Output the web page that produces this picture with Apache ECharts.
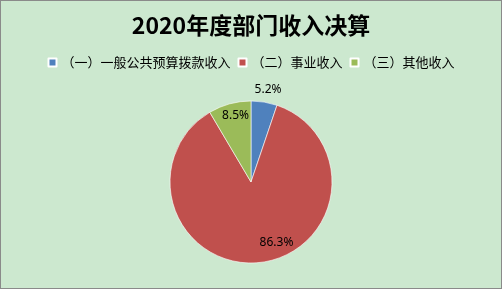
<!DOCTYPE html>
<html>
<head>
<meta charset="utf-8">
<script src="https://cdn.jsdelivr.net/npm/echarts@6/dist/echarts.min.js"></script>
<style>
  html, body { margin: 0; padding: 0; background: #cce8cf; }
  #chart { width: 502px; height: 289px; box-sizing: border-box; border: 1px solid #8a8a8a; background: #cce8cf; }
</style>
</head>
<body>
<div id="chart"></div>
<script>
// Income categories and their shares (%)
const categories = ['（一）一般公共预算拨款收入', '（二）事业收入', '（三）其他收入'];
const shares = [5.2, 86.3, 8.5];
const colors = ['#4f81bd', '#c0504d', '#9bbb59'];
const titleText = '2020年度部门收入决算';

// Label nudges away from the default inside position, per slice
const labelShift = [[10, -50], [21, 17], [-4, -24]];

const chart = echarts.init(document.getElementById('chart'));
chart.setOption({
  backgroundColor: '#cce8cf',
  title: {
    text: titleText,
    left: 'center',
    top: 8,
    textStyle: { fontFamily: 'Noto Sans CJK SC', fontWeight: 'bold', fontSize: 23, color: '#000' }
  },
  legend: {
    data: categories,
    top: 50,
    left: 'center',
    icon: 'rect',
    itemWidth: 8,
    itemHeight: 8,
    itemGap: 7,
    textStyle: { fontFamily: 'Noto Sans CJK SC', fontSize: 13, color: '#000' }
  },
  series: [{
    type: 'pie',
    center: [250, 181],
    radius: [0, 81],
    startAngle: 90,
    clockwise: true,
    animation: false,
    data: categories.map((name, i) => ({ name, value: shares[i], itemStyle: { color: colors[i] } })),
    itemStyle: { borderColor: '#ffffff', borderWidth: 0.6 },
    label: {
      show: true,
      position: 'inside',
      formatter: '{c}%',
      fontFamily: 'Noto Sans',
      fontSize: 12,
      color: '#000'
    },
    labelLine: { show: false },
    labelLayout: function (params) {
      const s = labelShift[params.dataIndex];
      return { dx: s[0], dy: s[1] };
    },
    emphasis: { disabled: true }
  }]
});
</script>
</body>
</html>
